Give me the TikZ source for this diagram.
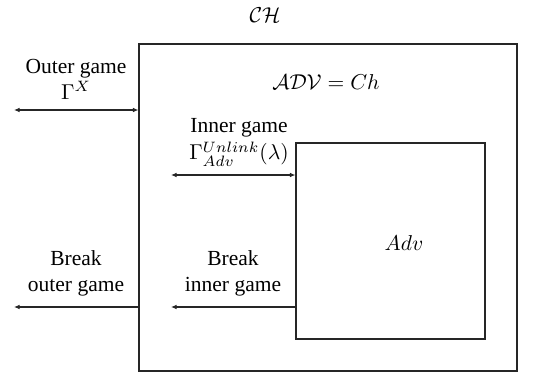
\documentclass[tikz,border=0pt]{standalone}
\usepackage{fontspec}
\setmainfont{Liberation Serif}
\usetikzlibrary{arrows.meta}
\begin{document}
\begin{tikzpicture}[x=0.465pt,y=-0.465pt,
  box/.style={draw=black!85, line width=0.5pt, inner sep=0pt},
  lbl/.style={align=center, inner sep=1pt, font=\fontsize{10}{12}\selectfont},
  conn/.style={draw=black!85, line width=0.5pt},
  tip/.style={-{Latex[length=2.6pt,width=2.2pt]}},
  bitip/.style={{Latex[length=2.6pt,width=2.2pt]}-{Latex[length=2.6pt,width=2.2pt]}}]
\useasboundingbox (0,0) rectangle (543,377);

% boxes
\node[box, minimum width=378*0.465pt, minimum height=327*0.465pt] (ch) at (328,207.5) {};
\node[box, minimum width=189*0.465pt, minimum height=196*0.465pt] (adv) at (390.5,241) {};

% labels
\node[lbl] (chl) at (265,15) {$\mathcal{CH}$};
\node[lbl] (advch) at (326,82) {$\mathcal{ADV} = Ch$};
\node[lbl] (advl) at (404,243) {$Adv$};
\node[lbl] (outer) at (76,79) {Outer game\\$\Gamma^{X}$};
\node[lbl] (inner) at (239,142) {Inner game\\[1pt]$\Gamma^{Unlink}_{Adv}(\lambda)$};
\node[lbl] (bout) at (76,273) {Break\\outer game};
\node[lbl] (binn) at (233,273) {Break\\inner game};

% free ends of connectors
\coordinate (o1) at (14,110);
\coordinate (i1) at (171,175);
\coordinate (bo) at (14,307);
\coordinate (bi) at (171,307);

% connectors
\draw[conn, bitip] (o1) -- (o1 -| ch.west);
\draw[conn, bitip] (i1) -- (i1 -| adv.west);
\draw[conn, tip] (bo -| ch.west) -- (bo);
\draw[conn, tip] (bi -| adv.west) -- (bi);
\end{tikzpicture}
\end{document}
